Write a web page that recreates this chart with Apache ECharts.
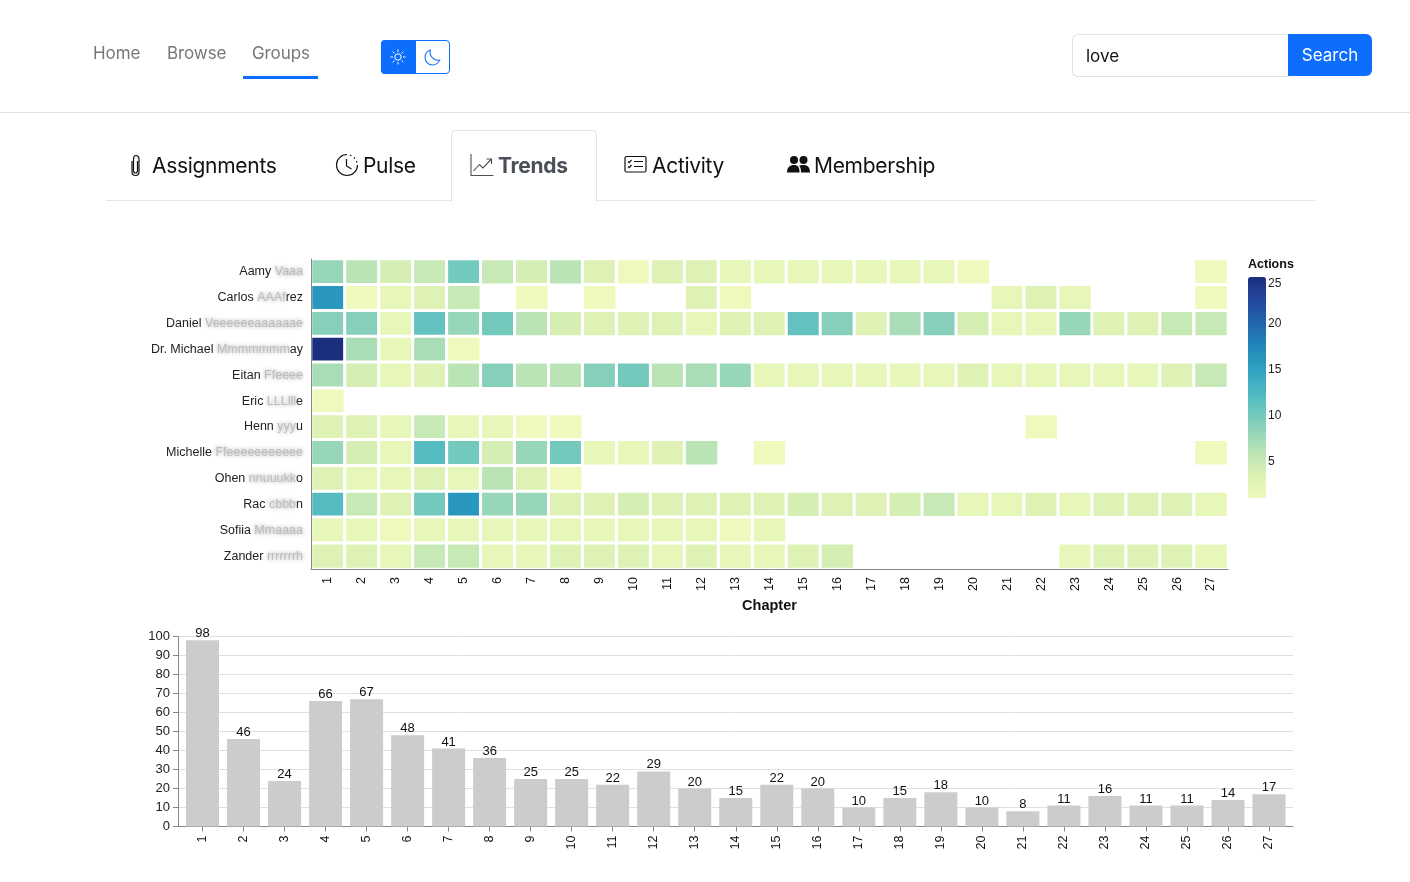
<!DOCTYPE html>
<html>
<head>
<meta charset="utf-8">
<title>Trends</title>
<script src="https://cdn.jsdelivr.net/npm/echarts@6/dist/echarts.min.js"></script>
<style>
html,body{margin:0;padding:0;background:#fff;width:1410px;height:882px;overflow:hidden;font-family:Inter,"Noto Sans",sans-serif;}
#chart{position:absolute;left:0;top:0;width:1410px;height:882px;}
.abs{position:absolute;white-space:nowrap;}
.nav{top:43px;font-size:17px;line-height:20px;color:#777;letter-spacing:-0.1px;}
.tab{top:152px;font-size:21px;line-height:28px;color:#111;letter-spacing:-0.3px;}
.icon{position:absolute;fill:none;stroke:#111;stroke-width:1.3;}
</style>
</head>
<body>
<div id="chart"></div>

<div class="abs" style="left:0;top:112px;width:1410px;height:1px;background:#dee2e6"></div>
<div class="abs nav" style="left:93px">Home</div>
<div class="abs nav" style="left:167px">Browse</div>
<div class="abs nav" style="left:252px">Groups</div>
<div class="abs" style="left:243px;top:76px;width:75px;height:3px;background:#0d6efd"></div>

<div class="abs" style="left:381px;top:40px;width:67px;height:32px;border:1px solid #0d6efd;border-radius:4px"></div>
<div class="abs" style="left:381px;top:40px;width:35px;height:34px;background:#0d6efd;border-radius:4px 0 0 4px"></div>
<svg class="icon" style="left:390px;top:49px;stroke:#fff;stroke-width:1" width="16" height="16" viewBox="0 0 16 16">
  <circle cx="8" cy="8" r="3.2"/><path d="M8 0.5V3M8 13V15.5M0.5 8H3M13 8H15.5M2.7 2.7L4.4 4.4M11.6 11.6L13.3 13.3M2.7 13.3L4.4 11.6M11.6 4.4L13.3 2.7"/>
</svg>
<svg class="icon" style="left:424px;top:49px;stroke:#0d6efd;stroke-width:1" width="17" height="17" viewBox="0 0 16 16">
  <path d="M6 1C3 2 1 4.800 1 8c0 3.900 3.100 7 7 7 3 0 5.600-1.800 6.800-4.500C10 11.500 4.500 7 6 1z"/>
</svg>

<div class="abs" style="left:1072px;top:34px;width:216px;height:41px;border:1px solid #dee2e6;border-right:none;border-radius:6px 0 0 6px"></div>
<div class="abs" style="left:1086px;top:45px;font-size:17px;line-height:22px;color:#111">love</div>
<div class="abs" style="left:1288px;top:34px;width:84px;height:42px;line-height:42px;background:#0d6efd;border-radius:0 6px 6px 0;color:#fff;font-size:17px;text-align:center">Search</div>

<div class="abs" style="left:106px;top:200px;width:1209px;height:1px;background:#e6e6e6"></div>
<div class="abs" style="left:451px;top:130px;width:144px;height:71px;border:1px solid #dee2e6;border-bottom:none;border-radius:5px 5px 0 0;background:#fff"></div>

<svg class="icon" style="left:128px;top:154px;stroke-width:1.2" width="15" height="23" viewBox="0 0 15 23">
  <path d="M4 7V17.500C4 20 5.500 21.500 7.500 21.500S11 20 11 17.500V5.500C11 3 9.800 1.500 8 1.500S5.500 3 5.500 5.500V16.500C5.500 18 6.500 19 7.500 19S9.500 18 9.500 16.500V7"/>
</svg>
<div class="abs tab" style="left:152px">Assignments</div>
<svg class="icon" style="left:335px;top:153px;stroke-width:1.2" width="24" height="24" viewBox="0 0 24 24">
  <path d="M12 1.500A10.500 10.500 0 1 0 22.500 12" /><path d="M15 2.200L16.500 2.800M19 4.500L20 5.500M21.500 8L22 9.500" /><path d="M11.500 6V13L16.500 16"/>
</svg>
<div class="abs tab" style="left:363px">Pulse</div>
<svg class="icon" style="left:470px;top:153px;stroke:#495057;stroke-width:1.1" width="24" height="24" viewBox="0 0 24 24">
  <path d="M1 1V22.500H23.500"/><path d="M3.500 18L9.500 11.500L13 15L21 6.500M16.500 6H21.500V11"/>
</svg>
<div class="abs tab" style="left:498px;font-weight:700;color:#495057">Trends</div>
<svg class="icon" style="left:624px;top:155px;stroke-width:1.2" width="23" height="19" viewBox="0 0 23 19">
  <rect x="1" y="1.500" width="21" height="15.500" rx="1.500"/><path d="M10 6.500H19M10 11.500H19M4 6.500L5.200 7.700L7.500 5M4 11.500L5.200 12.700L7.500 10"/>
</svg>
<div class="abs tab" style="left:652px">Activity</div>
<svg class="icon" style="left:787px;top:155px;fill:#111;stroke:none" width="23" height="19" viewBox="0 0 23 19">
  <circle cx="7" cy="5" r="4"/><circle cx="16.500" cy="5" r="4"/><path d="M0 17.500C0 12 3 10 7 10S12.500 12 12.500 17.500Z"/><path d="M14 17.500C14 14 13.500 12 12 10.800C13 10.200 14.800 10 16.500 10C20.500 10 23 12 23 17.500Z"/>
</svg>
<div class="abs tab" style="left:814px">Membership</div>

<script>
var chapters = [1,2,3,4,5,6,7,8,9,10,11,12,13,14,15,16,17,18,19,20,21,22,23,24,25,26,27];

// 行标签: 清晰部分 + 模糊部分 + 清晰结尾
var labelHead = ['Aamy','Carlos','Daniel','Dr. Michael','Eitan','Eric','Henn','Michelle','Ohen','Rac','Sofiia','Zander'];
var labelBlur = ['Vaaa','AAAf','Veeeeeeaaaaaae','Mmmmmmm','Ffeeee','LLLlll','yyy','Ffeeeeeeeeeee','nnuuukk','cbbb','Mmaaaa','rrrrrrrh'];
var labelTail = ['','rez','','ay','','e','u','','o','n','',''];

var _ = null;
var aamy     = [ 8, 6, 4, 5,10, 5, 4, 6, 3, 1, 3, 3, 2, 2, 2, 2, 2, 2, 2, 1, _, _, _, _, _, _, 1];
var carlos   = [16, 1, 2, 3, 5, _, 1, _, 1, _, _, 3, 1, _, _, _, _, _, _, _, 2, 3, 2, _, _, _, 1];
var daniel   = [ 9, 9, 2,11, 8,10, 6, 4, 3, 3, 3, 2, 3, 3,11, 9, 3, 7, 9, 4, 2, 2, 8, 3, 3, 5, 5];
var michael  = [25, 7, 2, 7, 1, _, _, _, _, _, _, _, _, _, _, _, _, _, _, _, _, _, _, _, _, _, _];
var eitan    = [ 7, 4, 2, 3, 6, 9, 6, 6, 9,10, 6, 7, 8, 2, 2, 2, 2, 2, 2, 3, 2, 2, 2, 2, 2, 3, 5];
var eric     = [ 1, _, _, _, _, _, _, _, _, _, _, _, _, _, _, _, _, _, _, _, _, _, _, _, _, _, _];
var henry    = [ 3, 3, 2, 5, 2, 2, 1, 1, _, _, _, _, _, _, _, _, _, _, _, _, _, 1, _, _, _, _, _];
var michelle = [ 8, 4, 2,12,10, 4, 8,10, 2, 2, 3, 6, _, 1, _, _, _, _, _, _, _, _, _, _, _, _, 1];
var ohen     = [ 3, 2, 2, 3, 2, 6, 3, 1, _, _, _, _, _, _, _, _, _, _, _, _, _, _, _, _, _, _, _];
var rac      = [12, 5, 3,10,16, 8, 8, 3, 3, 4, 3, 3, 3, 3, 4, 3, 3, 4, 5, 2, 2, 3, 2, 3, 3, 3, 2];
var sofiia   = [ 2, 2, 1, 2, 2, 2, 2, 2, 2, 2, 2, 2, 1, 2, _, _, _, _, _, _, _, _, _, _, _, _, _];
var zander   = [ 3, 3, 2, 5, 5, 2, 2, 3, 3, 3, 2, 3, 2, 2, 3, 4, _, _, _, _, _, _, 2, 3, 3, 3, 2];

var totals = [98,46,24,66,67,48,41,36,25,25,22,29,20,15,22,20,10,15,18,10,8,11,16,11,11,14,17];
var legendTicks = [5,10,15,20,25];
var colorStops = ['#eff9bd','#dbf1b4','#bde5b5','#94d5b9','#69c5be','#45b4c2','#2c9ec0','#2182b8','#2163aa','#23479c','#1c2f7f'];

var rows = [aamy,carlos,daniel,michael,eitan,eric,henry,michelle,ohen,rac,sofiia,zander];
var cells = [];
for (var r = 0; r < rows.length; r++) {
	for (var c = 0; c < chapters.length; c++) {
		if (rows[r][c] != null) cells.push([c, r, rows[r][c]]);
	}
}
var barData = [];
for (var i = 0; i < chapters.length; i++) {
	barData.push([chapters[i], totals[i]]);
}

var font = '"Liberation Sans", Arial, sans-serif';
var axisGray = '#888';

var myChart = echarts.init(document.getElementById('chart'), null, {renderer: 'canvas'});
var option = {
	animation: false,
	backgroundColor: 'transparent',
	textStyle: {fontFamily: font},
	title: {
		text: 'Actions', left: 1248, top: 258, padding: 0,
		textStyle: {fontFamily: font, fontSize: 12.5, fontWeight: 'bold', color: '#111'}
	},
	grid: [
		{left: 311, top: 259, width: 917, height: 310},
		{left: 178, top: 636.5, width: 1115, height: 190},
		{left: 1265, top: 278, width: 1, height: 221}
	],
	xAxis: [
		{
			gridIndex: 0, type: 'category', data: chapters, z: 5,
			name: 'Chapter', nameLocation: 'middle', nameGap: 29,
			nameTextStyle: {fontFamily: font, fontSize: 14.5, fontWeight: 'bold', color: '#111'},
			axisLine: {lineStyle: {color: axisGray}},
			axisTick: {alignWithLabel: true, length: 5, lineStyle: {color: axisGray}},
			axisLabel: {rotate: 90, fontSize: 12.5, color: '#111', margin: 8, interval: 0},
			splitLine: {show: false}
		},
		{
			// 数值轴, 这样柱子的外边距可以和参考图一致
			gridIndex: 1, type: 'value', min: 0.4027, max: 27.585,
			axisLine: {onZero: false, lineStyle: {color: axisGray}},
			axisTick: {customValues: chapters, length: 5, lineStyle: {color: axisGray}},
			axisLabel: {customValues: chapters, rotate: 90, fontSize: 12.5, color: '#111', margin: 9},
			splitLine: {show: false}
		},
		{gridIndex: 2, type: 'value', min: 0, max: 1, show: false}
	],
	yAxis: [
		{
			gridIndex: 0, type: 'category', inverse: true, data: labelHead, z: 5,
			axisLine: {lineStyle: {color: axisGray}},
			axisTick: {alignWithLabel: true, length: 5, lineStyle: {color: axisGray}},
			axisLabel: {
				interval: 0, margin: 8,
				formatter: function (value, index) {
					var s = '{c|' + value + ' }{b|' + labelBlur[index] + '}';
					if (labelTail[index]) s += '{c|' + labelTail[index] + '}';
					return s;
				},
				rich: {
					c: {fontFamily: font, fontSize: 12.5, color: '#222'},
					b: {fontFamily: font, fontSize: 12.5, color: '#bdbdbd', textShadowColor: '#999', textShadowBlur: 4}
				}
			},
			splitLine: {show: false}
		},
		{
			gridIndex: 1, type: 'value', min: 0, max: 100, interval: 10,
			axisLine: {show: true, lineStyle: {color: axisGray}},
			axisTick: {show: true, length: 5, lineStyle: {color: axisGray}},
			axisLabel: {fontSize: 13, color: '#222', margin: 8, padding: [2, 0, 0, 0]},
			splitLine: {show: true, lineStyle: {color: '#e0e0e0', width: 1}}
		},
		{
			gridIndex: 2, type: 'value', min: 1, max: 25, position: 'right',
			axisLine: {show: false},
			axisTick: {show: false},
			axisLabel: {customValues: legendTicks, fontSize: 12, color: '#222', margin: 2, verticalAlignMaxLabel: 'top'},
			splitLine: {show: false}
		}
	],
	visualMap: {
		type: 'continuous', seriesIndex: 0, min: 1, max: 25,
		left: 1248, top: 277, padding: 0, itemWidth: 18, itemHeight: 221,
		text: null, calculable: false, showLabel: false,
		inRange: {color: colorStops}
	},
	series: [
		{
			type: 'heatmap', xAxisIndex: 0, yAxisIndex: 0, data: cells,
			itemStyle: {borderColor: '#fff', borderWidth: 3}
		},
		{
			type: 'bar', xAxisIndex: 1, yAxisIndex: 1, data: barData, barWidth: 33,
			itemStyle: {color: '#cccccc'},
			label: {show: true, position: 'top', distance: 0, fontFamily: font, fontSize: 13, color: '#111',
				formatter: function (p) { return p.value[1]; }}
		}
	]
};
myChart.setOption(option);
</script>
</body>
</html>
